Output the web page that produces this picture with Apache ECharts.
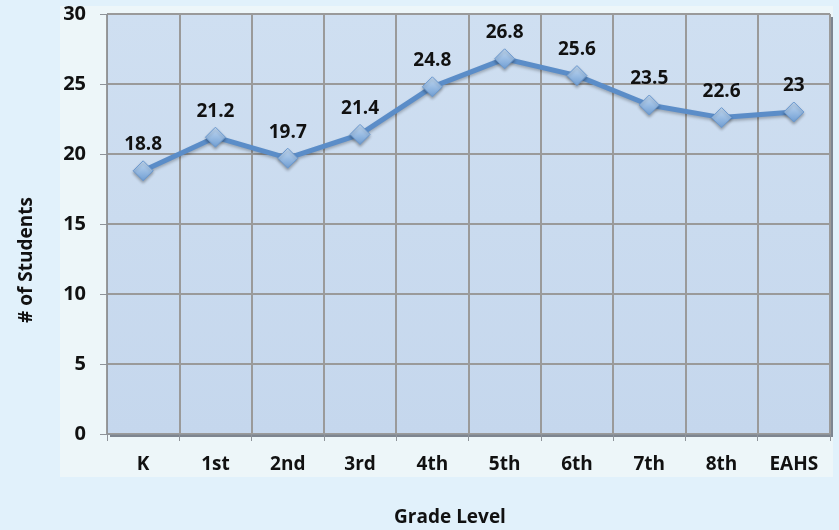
<!DOCTYPE html>
<html>
<head>
<meta charset="utf-8">
<script src="https://cdn.jsdelivr.net/npm/echarts@6/dist/echarts.min.js"></script>
<style>
  html, body { margin: 0; padding: 0; background: #e1f1fb; }
  #chart { width: 839px; height: 530px; }
</style>
</head>
<body>
<div id="chart"></div>
<script>
  const grades = ['K', '1st', '2nd', '3rd', '4th', '5th', '6th', '7th', '8th', 'EAHS'];
  const students = [18.8, 21.2, 19.7, 21.4, 24.8, 26.8, 25.6, 23.5, 22.6, 23];
  const xTitle = 'Grade Level';
  const yTitle = '# of Students';

  const font = '"Open Sans", "DejaVu Sans", sans-serif';
  let myChart = echarts.init(document.getElementById('chart'));

  let option = {
    backgroundColor: '#e1f1fb',
    graphic: [
      // lighter panel behind the plot
      { type: 'rect', z: -10, shape: { x: 60, y: 6, width: 773, height: 471 }, style: { fill: '#edf6f9' } },
      // 3d edge shadow of the plot area
      { type: 'rect', z: -5, shape: { x: 110, y: 17, width: 723, height: 420 }, style: { fill: '#7d8590' } },
      // axis titles (placed like the original, not centred on the plot)
      {
        type: 'text', x: 450, y: 518,
        style: { text: xTitle, fontFamily: font, fontWeight: 'bold', fontSize: 19, fill: '#111', align: 'center', verticalAlign: 'middle' }
      },
      {
        type: 'text', x: 27, y: 260, rotation: Math.PI / 2,
        style: { text: yTitle, fontFamily: font, fontWeight: 'bold', fontSize: 19, fill: '#111', align: 'center', verticalAlign: 'middle' }
      }
    ],
    grid: {
      left: 107,
      right: 9,
      top: 14,
      bottom: 96,
      outerBoundsMode: 'none',
      containLabel: false,
      show: true,
      backgroundColor: new echarts.graphic.LinearGradient(0, 0, 0, 1, [
        { offset: 0, color: '#cfdff1' },
        { offset: 1, color: '#c5d7ed' }
      ]),
      borderColor: '#9a9fa6',
      borderWidth: 1
    },
    xAxis: {
      type: 'category',
      data: grades,
      axisLine: { show: true, lineStyle: { color: '#8e9399', width: 1 } },
      axisTick: { show: true, length: 7, lineStyle: { color: '#8e9399' } },
      axisLabel: { fontFamily: font, fontWeight: 'bold', fontSize: 19, color: '#111', margin: 21 },
      splitLine: { show: true, lineStyle: { color: '#9a9a9a', width: 2 } }
    },
    yAxis: {
      type: 'value',
      min: 0,
      max: 30,
      interval: 5,
      axisLine: { show: true, lineStyle: { color: '#8e9399', width: 1 } },
      axisTick: { show: true, length: 7, lineStyle: { color: '#8e9399' } },
      axisLabel: { fontFamily: font, fontWeight: 'bold', fontSize: 20, color: '#111', margin: 21 },
      splitLine: { show: true, lineStyle: { color: '#9a9a9a', width: 2 } }
    },
    series: [{
      type: 'line',
      data: students,
      symbol: 'diamond',
      symbolSize: 20,
      lineStyle: {
        color: '#5b8dc8',
        width: 5,
        shadowColor: 'rgba(0,0,0,0.25)',
        shadowBlur: 3,
        shadowOffsetY: 2
      },
      itemStyle: {
        color: new echarts.graphic.LinearGradient(0, 0, 0, 1, [
          { offset: 0, color: '#c6dcf3' },
          { offset: 1, color: '#6e9dd3' }
        ]),
        borderColor: '#6a98cf',
        borderWidth: 1,
        shadowColor: 'rgba(0,0,0,0.3)',
        shadowBlur: 3,
        shadowOffsetY: 2
      },
      label: {
        show: true,
        position: 'top',
        distance: 6,
        fontFamily: font,
        fontWeight: 'bold',
        fontSize: 19,
        color: '#111'
      },
      animation: false
    }]
  };
  myChart.setOption(option);
</script>
</body>
</html>
